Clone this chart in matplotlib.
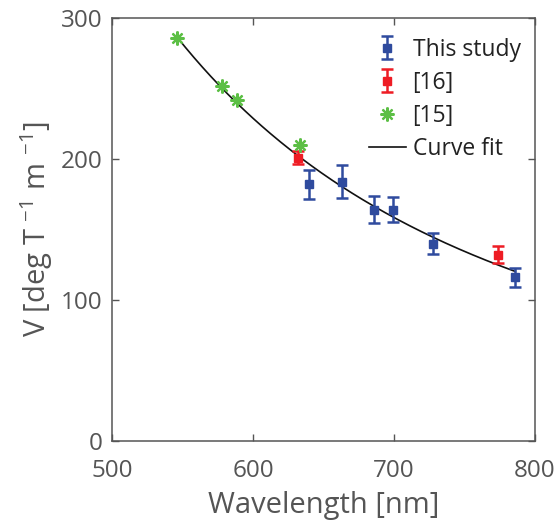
import numpy as np
import matplotlib
matplotlib.use("Agg")
import matplotlib.pyplot as plt

plt.rcParams['font.family'] = ['Open Sans', 'DejaVu Sans']
plt.rcParams['mathtext.fontset'] = 'custom'
plt.rcParams['mathtext.rm'] = 'Open Sans'
plt.rcParams['mathtext.it'] = 'Open Sans'

# This study
wl_study = [640, 663, 686, 699, 728, 786]
v_study = [182, 184, 164, 164, 140, 116]
err_study = [10.5, 11.5, 9.5, 9, 7.5, 6.5]

# [16]
wl_16 = [632, 774]
v_16 = [201, 132]
err_16 = [4.5, 6]

# [15]
wl_15 = [546, 578, 589, 633]
v_15 = [286, 252, 242, 210]

gray = '#555555'
blue = '#2f4b9e'
red = '#ee1c24'
green = '#5cbf45'

fig = plt.figure(figsize=(5.58, 5.28), dpi=100)
ax = fig.add_axes([0.2007, 0.1648, 0.758, 0.801])

# curve fit: power law fitted to all data in log-log space
wl_all = np.array(wl_study + wl_16 + wl_15, dtype=float)
v_all = np.array(v_study + v_16 + v_15, dtype=float)
p = np.polyfit(np.log(wl_all), np.log(v_all), 1)
wl_fit = np.linspace(546, 786, 200)
v_fit = np.exp(np.polyval(p, np.log(wl_fit)))

h1 = ax.errorbar(wl_study, v_study, yerr=err_study, fmt='s', color=blue, ms=5.5,
                 elinewidth=1.8, capsize=4, capthick=1.8, zorder=3)
h2 = ax.errorbar(wl_16, v_16, yerr=err_16, fmt='s', color=red, ms=5.5,
                 elinewidth=1.8, capsize=4, capthick=1.8, zorder=3)
h3, = ax.plot(wl_15, v_15, ls='none', marker=(8, 2, 0), color=green, ms=10,
              mew=1.6, zorder=3)
h4, = ax.plot(wl_fit, v_fit, color='#111111', lw=1.2, zorder=2)

ax.set_xlim(500, 800)
ax.set_ylim(0, 300)
ax.set_xticks([500, 600, 700, 800])
ax.set_yticks([0, 100, 200, 300])
ax.tick_params(direction='in', top=True, right=True, length=5, width=1,
               colors=gray, labelsize=17.5)
ax.tick_params(axis='x', pad=13)
ax.tick_params(axis='y', pad=7)
for s in ax.spines.values():
    s.set_color(gray)
    s.set_linewidth(1.1)

ax.set_xlabel('Wavelength [nm]', fontsize=21, color=gray, labelpad=6)
ax.set_ylabel('V [deg T $^{-1}$ m $^{-1}$]', fontsize=21, color=gray, labelpad=4)

leg = ax.legend([h1, h2, h3, h4], ['This study', '[16]', '[15]', 'Curve fit'],
                loc='upper right', bbox_to_anchor=(1.012, 1.0), frameon=False,
                fontsize=16.5, handlelength=1.6, handletextpad=0.3,
                labelspacing=0.4, borderaxespad=0.45)
for t in leg.get_texts():
    t.set_color('#222222')

fig.savefig('out.png', dpi=100)
